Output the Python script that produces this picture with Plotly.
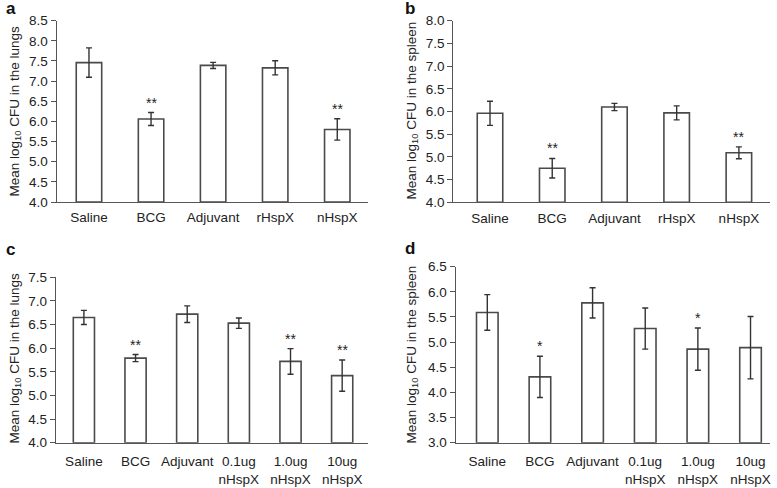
import plotly.graph_objects as go

# Categorias
cats_ab = ['Saline', 'BCG', 'Adjuvant', 'rHspX', 'nHspX']
cats_cd = ['Saline', 'BCG', 'Adjuvant', '0.1ug<br>nHspX', '1.0ug<br>nHspX', '10ug<br>nHspX']

# Painel a - pulmões
a_mean = [7.46, 6.06, 7.39, 7.33, 5.80]
a_err = [0.365, 0.16, 0.075, 0.175, 0.265]
a_sig = ['', '**', '', '', '**']

# Painel b - baço
b_mean = [5.96, 4.75, 6.10, 5.97, 5.09]
b_err = [0.265, 0.215, 0.08, 0.155, 0.13]
b_sig = ['', '**', '', '', '**']

# Painel c - pulmões (doses)
c_mean = [6.65, 5.79, 6.72, 6.53, 5.72, 5.42]
c_err = [0.15, 0.075, 0.175, 0.11, 0.27, 0.33]
c_sig = ['', '**', '', '', '**', '**']

# Painel d - baço (doses)
d_mean = [5.59, 4.31, 5.78, 5.27, 4.86, 4.89]
d_err = [0.355, 0.41, 0.30, 0.41, 0.42, 0.62]
d_sig = ['', '*', '', '', '*', '']

W, H = 777, 488
FONT = 'Liberation Sans, Arial, sans-serif'
LINE = '#555555'
TXT = '#222222'

def px_x(x0, x1):
    return [x0 / W, x1 / W]

def px_y(top, bottom):
    return [1 - bottom / H, 1 - top / H]

paineis = [
    # cats, mean, err, sig, xdom, ydom, yrange, xrange, standoff, letra, pos letra, titulo, pos titulo
    (cats_ab, a_mean, a_err, a_sig, px_x(56.7, 368.3), px_y(20.7, 202), [4.0, 8.5], [-0.52, 4.5], 3,
     'a', (4, 9), 'Mean log<sub>10</sub> CFU in the lungs', (4, 111)),
    (cats_ab, b_mean, b_err, b_sig, px_x(453.3, 770), px_y(20.7, 202.3), [4.0, 8.0], [-0.59, 4.5], 3,
     'b', (403, 9), 'Mean log<sub>10</sub> CFU in the spleen', (401, 111)),
    (cats_cd, c_mean, c_err, c_sig, px_x(56, 368), px_y(277.3, 442.7), [4.0, 7.5], [-0.54, 5.5], 6,
     'c', (4, 250), 'Mean log<sub>10</sub> CFU in the lungs', (4, 358)),
    (cats_cd, d_mean, d_err, d_sig, px_x(455.7, 770), px_y(266.7, 442.7), [3.0, 6.5], [-0.6, 5.37], 6,
     'd', (403, 248), 'Mean log<sub>10</sub> CFU in the spleen', (401, 355)),
]

fig = go.Figure()
annotations = []

for i, (cats, mean, err, sig, xdom, ydom, yr, xr, standoff, letra, lpos, titulo, tpos) in enumerate(paineis):
    n = '' if i == 0 else str(i + 1)
    # a barra começa no mínimo do eixo
    fig.add_trace(go.Bar(
        x=list(range(len(cats))), y=[m - yr[0] for m in mean], width=0.41,
        base=yr[0], marker=dict(color='white', line=dict(color='#4a4a4a', width=1.6)),
        error_y=dict(type='data', array=err, color='#333333', thickness=1.4, width=3),
        xaxis='x' + n, yaxis='y' + n, showlegend=False,
    ))

    fig.layout['xaxis' + n] = dict(
        domain=xdom, anchor='y' + n, range=xr, automargin=False,
        tickmode='array', tickvals=list(range(len(cats))), ticktext=cats,
        showline=True, linecolor=LINE, linewidth=1.3, ticks='', showgrid=False,
        zeroline=False, ticklabelstandoff=standoff,
        tickfont=dict(family=FONT, size=13.5, color=TXT),
    )
    fig.layout['yaxis' + n] = dict(
        domain=ydom, anchor='x' + n, range=yr, dtick=0.5, tickformat='.1f',
        automargin=False,
        showline=True, linecolor=LINE, linewidth=1.3, ticks='outside',
        ticklen=5, tickcolor=LINE, showgrid=False, zeroline=False,
        tickfont=dict(family=FONT, size=13.5, color=TXT),
    )

    for j, s in enumerate(sig):
        if s:
            annotations.append(dict(
                x=j, y=mean[j] + err[j], xref='x' + n, yref='y' + n,
                text=s, showarrow=False, yanchor='bottom', yshift=0,
                font=dict(family=FONT, size=14, color=TXT),
            ))

    annotations.append(dict(
        x=lpos[0] / W, y=1 - lpos[1] / H, xref='paper', yref='paper',
        text='<b>' + letra + '</b>', showarrow=False, xanchor='left', yanchor='middle',
        font=dict(family=FONT, size=17, color='#111111'),
    ))
    annotations.append(dict(
        x=tpos[0] / W, y=1 - tpos[1] / H, xref='paper', yref='paper',
        text=titulo, showarrow=False, textangle=-90, xanchor='left', yanchor='middle',
        font=dict(family=FONT, size=13.5, color=TXT),
    ))

fig.update_layout(
    width=W, height=H, margin=dict(l=0, r=0, t=0, b=0, autoexpand=False),
    paper_bgcolor='white', plot_bgcolor='white',
    annotations=annotations, bargap=0.6,
)

# tira a margem padrão do body para a figura ocupar a janela toda
fig.write_html("out.html", config={'displayModeBar': False},
               post_script="document.body.style.margin='0px';")
